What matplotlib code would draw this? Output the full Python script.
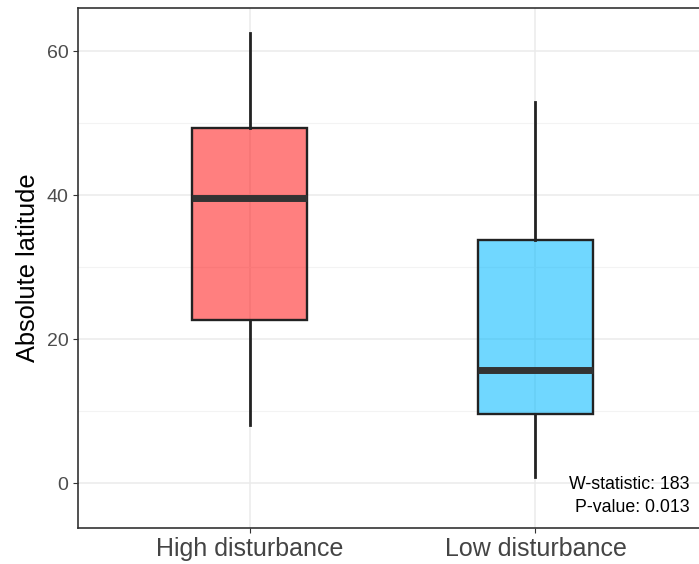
import matplotlib
matplotlib.use("Agg")
import matplotlib.pyplot as plt
from matplotlib.ticker import MultipleLocator

plt.rcParams["font.family"] = ["Liberation Sans", "DejaVu Sans"]

groups = ["High disturbance", "Low disturbance"]
whislo = [8.1, 0.8]
q1 = [22.7, 9.6]
med = [39.6, 15.7]
q3 = [49.3, 33.7]
whishi = [62.5, 52.9]
fills = [(1.0, 0.0, 0.0, 0.5), (0.0, 0.72, 1.0, 0.56)]

stats = []
for i in range(len(groups)):
    stats.append({"label": groups[i], "whislo": whislo[i], "q1": q1[i],
                  "med": med[i], "q3": q3[i], "whishi": whishi[i], "fliers": []})

fig = plt.figure(figsize=(6.99, 5.64), dpi=100)
ax = fig.add_axes([78/699, 36/564, 629/699, 520/564])

ax.set_axisbelow(True)
ax.yaxis.set_major_locator(MultipleLocator(20))
ax.yaxis.set_minor_locator(MultipleLocator(10))
ax.grid(True, which="major", color="#EBEBEB", lw=1.1)
ax.grid(True, which="minor", axis="y", color="#F3F3F3", lw=0.8)

bp = ax.bxp(stats, positions=[1, 2], widths=0.4, patch_artist=True,
            showcaps=False, showfliers=False,
            boxprops=dict(edgecolor="#222222", lw=1.7),
            whiskerprops=dict(color="#222222", lw=2),
            medianprops=dict(color="#333333", lw=5, solid_capstyle="butt"))
for patch, c in zip(bp["boxes"], fills):
    patch.set_facecolor(c)

ax.set_xlim(0.4, 2.6)
ax.set_ylim(-6.25, 66)
ax.set_ylabel("Absolute latitude", fontsize=18.3, color="black", labelpad=4.5)
ax.set_xticks([1, 2])
ax.set_xticklabels(groups, fontsize=18, color="#444444")
ax.tick_params(axis="y", which="major", labelsize=14, labelcolor="#4D4D4D",
               color="#333333", length=3.5)
ax.tick_params(axis="y", which="minor", length=0)
ax.tick_params(axis="x", color="#333333", length=3.5, pad=3)
for s in ax.spines.values():
    s.set_color("#333333")
    s.set_linewidth(1.2)

ax.text(2.54, -4.6, "W-statistic: 183\nP-value: 0.013", ha="right", va="bottom",
        fontsize=12.8, linespacing=1.45)

fig.savefig("out.png", dpi=100)
